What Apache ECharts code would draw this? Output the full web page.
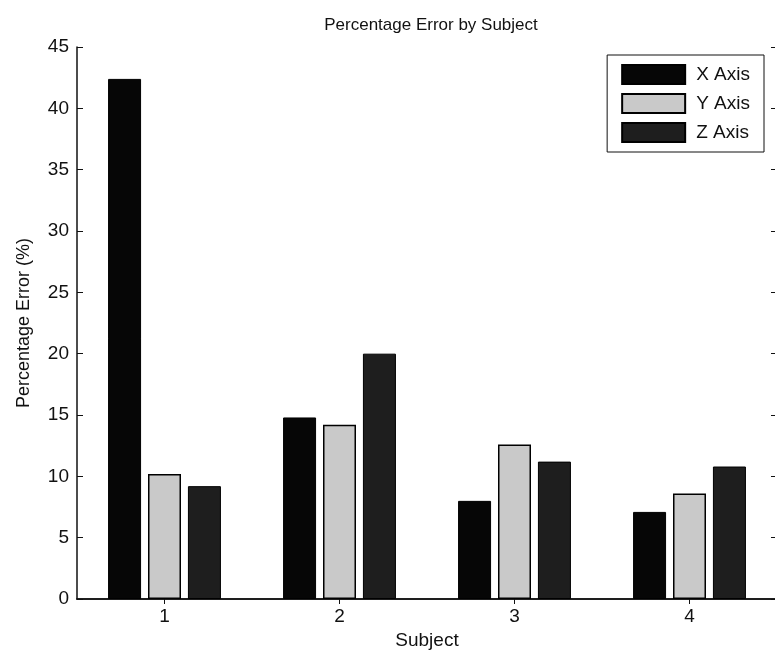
<!DOCTYPE html>
<html>
<head>
<meta charset="utf-8">
<script src="https://cdn.jsdelivr.net/npm/echarts@6/dist/echarts.min.js"></script>
<style>
  html, body { margin: 0; padding: 0; background: #fff; }
  #chart { width: 775px; height: 655px; }
</style>
</head>
<body>
<div id="chart"></div>
<script>
// data
const subjects = ['1', '2', '3', '4']
const xAxisErr = [42.4, 14.8, 8.0, 7.1]
const yAxisErr = [10.2, 14.2, 12.6, 8.6]
const zAxisErr = [9.2, 20.0, 11.2, 10.8]
const yTicks = { min: 0, max: 45, interval: 5 }

const font = 'Liberation Sans, Arial, sans-serif'
const myChart = echarts.init(document.getElementById('chart'))

const barBase = {
  type: 'bar',
  barWidth: 33,
  barGap: '21%',
  xAxisIndex: 0,
  yAxisIndex: 0
}

myChart.setOption({
  animation: false,
  title: {
    text: 'Percentage Error by Subject',
    left: 426,
    top: 12,
    textAlign: 'center',
    textStyle: { fontFamily: font, fontSize: 17, fontWeight: 'normal', color: '#111' }
  },
  legend: {
    right: 11,
    top: 55,
    orient: 'vertical',
    icon: 'rect',
    itemWidth: 63,
    itemHeight: 19,
    itemGap: 8,
    padding: [9, 14, 9, 14],
    borderColor: '#111',
    borderWidth: 1,
    backgroundColor: '#fff',
    textStyle: { fontFamily: font, fontSize: 19, color: '#111', padding: [0, 0, 0, 6] },
    data: ['X Axis', 'Y Axis', 'Z Axis']
  },
  grid: {
    left: 77,
    top: 47,
    width: 700,
    height: 552,
    outerBoundsMode: 'none'
  },
  xAxis: [{
    type: 'category',
    data: subjects,
    name: 'Subject',
    nameLocation: 'middle',
    nameGap: 31,
    nameTextStyle: { fontFamily: font, fontSize: 19, color: '#111' },
    axisLine: { lineStyle: { color: '#111', width: 1.5 } },
    axisTick: { show: false },
    axisLabel: { fontFamily: font, fontSize: 19, color: '#111', margin: 8 }
  }, {
    type: 'category',
    data: subjects,
    position: 'top',
    axisLine: { lineStyle: { color: '#111', width: 1.5 } },
    axisTick: { show: true, inside: true, alignWithLabel: true, length: 5, lineStyle: { color: '#111' } },
    axisLabel: { show: false }
  }],
  yAxis: [{
    type: 'value',
    min: yTicks.min,
    max: yTicks.max,
    interval: yTicks.interval,
    name: 'Percentage Error (%)',
    nameLocation: 'middle',
    nameGap: 44,
    nameTextStyle: { fontFamily: font, fontSize: 18, color: '#111' },
    splitLine: { show: false },
    axisLine: { show: true, lineStyle: { color: '#111', width: 1.5 } },
    axisTick: { show: true, inside: true, length: 6, lineStyle: { color: '#111' } },
    axisLabel: { fontFamily: font, fontSize: 19, color: '#111', margin: 8 }
  }, {
    type: 'value',
    min: yTicks.min,
    max: yTicks.max,
    interval: yTicks.interval,
    position: 'right',
    splitLine: { show: false },
    axisLine: { show: true, lineStyle: { color: '#111', width: 1.5 } },
    axisTick: { show: true, inside: true, length: 6, lineStyle: { color: '#111' } },
    axisLabel: { show: false }
  }],
  series: [
    Object.assign({}, barBase, {
      name: 'X Axis',
      itemStyle: { color: '#060606', borderColor: '#000', borderWidth: 1 },
      data: xAxisErr
    }),
    Object.assign({}, barBase, {
      name: 'Y Axis',
      itemStyle: { color: '#c9c9c9', borderColor: '#000', borderWidth: 1.5 },
      data: yAxisErr
    }),
    Object.assign({}, barBase, {
      name: 'Z Axis',
      itemStyle: { color: '#1e1e1e', borderColor: '#000', borderWidth: 1 },
      data: zAxisErr
    })
  ]
})
</script>
</body>
</html>
